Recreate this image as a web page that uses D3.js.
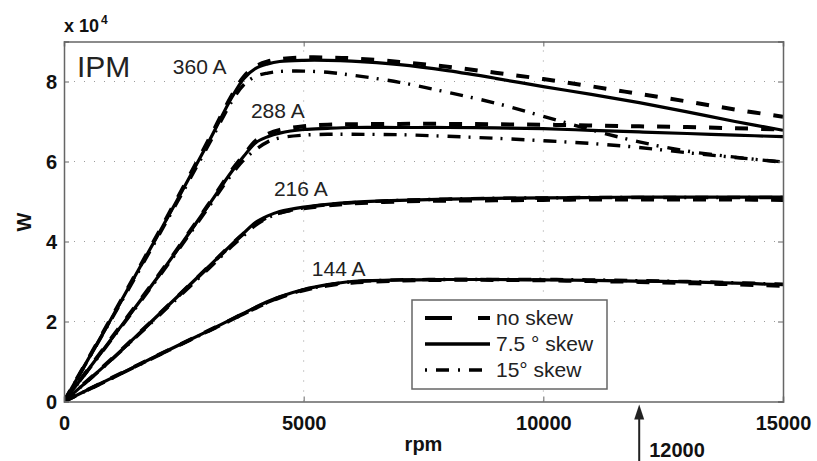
<!DOCTYPE html>
<html>
<head>
<meta charset="utf-8">
<script src="https://cdn.jsdelivr.net/npm/d3@7"></script>
<style>
  body { margin: 0; background: #fff; }
  svg { display: block; font-family: "Liberation Sans", Arial, Helvetica, sans-serif; }
</style>
</head>
<body>
<svg id="chart" width="817" height="461"></svg>
<script>
const rpm = [0, 1000, 2000, 3000, 3500, 3750, 4000, 4250, 4500, 5000, 5500, 6000, 7000, 8000, 9000, 10000, 11000, 12000, 13000, 14000, 15000]

// power in units of 10^4 W
const a360NoSkew = [0, 2.12, 4.28, 6.5, 7.65, 8.12, 8.38, 8.5, 8.56, 8.6, 8.6, 8.58, 8.49, 8.37, 8.22, 8.06, 7.88, 7.69, 7.5, 7.3, 7.12]
const a360Skew75 = [0, 2.1, 4.25, 6.45, 7.6, 8.07, 8.33, 8.44, 8.5, 8.53, 8.53, 8.51, 8.42, 8.27, 8.08, 7.87, 7.68, 7.47, 7.24, 7.0, 6.78]
const a360Skew15 = [0, 2.08, 4.2, 6.38, 7.5, 7.92, 8.13, 8.21, 8.25, 8.26, 8.23, 8.16, 7.98, 7.73, 7.46, 7.13, 6.79, 6.49, 6.26, 6.11, 5.98]

const a288NoSkew = [0, 1.6, 3.2, 4.9, 5.78, 6.16, 6.52, 6.69, 6.79, 6.88, 6.92, 6.93, 6.94, 6.94, 6.93, 6.92, 6.9, 6.88, 6.86, 6.83, 6.8]
const a288Skew75 = [0, 1.58, 3.18, 4.88, 5.75, 6.13, 6.47, 6.62, 6.71, 6.8, 6.83, 6.85, 6.85, 6.85, 6.84, 6.82, 6.78, 6.74, 6.7, 6.66, 6.62]
const a288Skew15 = [0, 1.56, 3.15, 4.83, 5.68, 6.04, 6.3, 6.49, 6.59, 6.66, 6.68, 6.68, 6.67, 6.63, 6.58, 6.52, 6.45, 6.35, 6.22, 6.1, 5.99]

const a216NoSkew = [0, 1.07, 2.2, 3.35, 3.93, 4.2, 4.44, 4.61, 4.72, 4.83, 4.9, 4.95, 5.0, 5.02, 5.03, 5.04, 5.05, 5.05, 5.05, 5.05, 5.04]
const a216Skew75 = [0, 1.06, 2.2, 3.35, 3.93, 4.21, 4.48, 4.64, 4.75, 4.86, 4.93, 4.98, 5.03, 5.06, 5.08, 5.09, 5.1, 5.11, 5.11, 5.11, 5.11]
const a216Skew15 = [0, 1.05, 2.17, 3.3, 3.88, 4.15, 4.41, 4.59, 4.71, 4.84, 4.92, 4.97, 5.03, 5.06, 5.08, 5.09, 5.1, 5.1, 5.1, 5.1, 5.1]

const a144NoSkew = [0, 0.59, 1.18, 1.76, 2.05, 2.2, 2.34, 2.48, 2.6, 2.78, 2.9, 2.97, 3.02, 3.04, 3.04, 3.03, 3.01, 2.99, 2.96, 2.93, 2.89]
const a144Skew75 = [0, 0.59, 1.18, 1.76, 2.06, 2.21, 2.36, 2.5, 2.62, 2.8, 2.92, 3.0, 3.04, 3.05, 3.05, 3.04, 3.03, 3.01, 2.99, 2.96, 2.92]
const a144Skew15 = [0, 0.58, 1.17, 1.75, 2.04, 2.19, 2.34, 2.48, 2.6, 2.79, 2.91, 2.99, 3.04, 3.05, 3.05, 3.05, 3.04, 3.02, 3.0, 2.97, 2.93]

const xTicks = [0, 5000, 10000, 15000]
const yTicks = [0, 2, 4, 6, 8]
const currentLabels = [
  { text: '360 A', rpm: 2270, val: 8.2 },
  { text: '288 A', rpm: 3900, val: 7.1 },
  { text: '216 A', rpm: 4380, val: 5.15 },
  { text: '144 A', rpm: 5170, val: 3.15 },
]
const legendLabels = ['no skew', '7.5 \u00b0 skew', '15\u00b0 skew']
const markedRpm = 12000

const styles = {
  noSkew: { width: 4, dash: '13,13' },
  skew75: { width: 3.2, dash: null },
  skew15: { width: 3.4, dash: '13,8,2,9' },
}

const series = [
  { data: a360Skew75, style: 'skew75' },
  { data: a288Skew75, style: 'skew75' },
  { data: a216Skew75, style: 'skew75' },
  { data: a144Skew75, style: 'skew75' },
  { data: a360Skew15, style: 'skew15' },
  { data: a288Skew15, style: 'skew15' },
  { data: a216Skew15, style: 'skew15' },
  { data: a144Skew15, style: 'skew15' },
  { data: a360NoSkew, style: 'noSkew' },
  { data: a288NoSkew, style: 'noSkew' },
  { data: a216NoSkew, style: 'noSkew' },
  { data: a144NoSkew, style: 'noSkew' },
]

const svg = d3.select('#chart')
const x = d3.scaleLinear().domain([0, 15000]).range([64, 783])
const y = d3.scaleLinear().domain([0, 9]).range([401.5, 41.5])
const [x0, x1] = x.range()
const [y0, y1] = y.range()

svg.append('defs').append('clipPath').attr('id', 'plot')
  .append('rect').attr('x', x0).attr('y', y1).attr('width', x1 - x0).attr('height', y0 - y1)

// dotted grid
const grid = svg.append('g').attr('stroke', '#9a9a9a').attr('stroke-width', 1).attr('stroke-dasharray', '1,9')
grid.selectAll('.gx').data(xTicks.slice(1, -1)).join('line')
  .attr('x1', (d) => x(d)).attr('x2', (d) => x(d)).attr('y1', y0).attr('y2', y1)
grid.selectAll('.gy').data(yTicks.slice(1)).join('line')
  .attr('y1', (d) => y(d)).attr('y2', (d) => y(d)).attr('x1', x0).attr('x2', x1)

// curves
const line = d3.line()
  .x((d, i) => x(rpm[i]))
  .y((d) => y(d))
  .curve(d3.curveCatmullRom.alpha(0.5))

svg.append('g').attr('clip-path', 'url(#plot)')
  .selectAll('path').data(series).join('path')
  .attr('d', (d) => line(d.data))
  .attr('fill', 'none')
  .attr('stroke', '#000')
  .attr('stroke-width', (d) => styles[d.style].width)
  .attr('stroke-dasharray', (d) => styles[d.style].dash)
  .attr('stroke-linejoin', 'round')

// axes (inward ticks, box)
const axisColor = '#666'
const axisBottom = svg.append('g').attr('transform', `translate(0,${y0})`)
  .call(d3.axisBottom(x).tickValues(xTicks).tickSize(-5).tickFormat(d3.format('d')))
const axisLeft = svg.append('g').attr('transform', `translate(${x0},0)`)
  .call(d3.axisLeft(y).tickValues(yTicks).tickSize(-5))
const axisTop = svg.append('g').attr('transform', `translate(0,${y1})`)
  .call(d3.axisTop(x).tickValues(xTicks).tickSize(-5).tickFormat(''))
const axisRight = svg.append('g').attr('transform', `translate(${x1},0)`)
  .call(d3.axisRight(y).tickValues(yTicks).tickSize(-5).tickFormat(''))

;[axisBottom, axisLeft, axisTop, axisRight].forEach((g) => {
  g.select('.domain').attr('stroke', axisColor).attr('stroke-width', 1.5)
  g.selectAll('.tick line').attr('stroke', axisColor).attr('stroke-width', 1)
  g.selectAll('.tick text').attr('fill', '#111').attr('font-size', 20).attr('font-weight', 'bold')
    .attr('font-family', '"Liberation Sans", Arial, sans-serif')
})
axisBottom.selectAll('.tick text').attr('dy', null).attr('y', 28)
axisLeft.selectAll('.tick text').attr('x', -7).attr('dy', '0.35em')

// axis labels
svg.append('text').attr('x', (x0 + x1) / 2).attr('y', 451).attr('text-anchor', 'middle')
  .attr('font-size', 20).attr('font-weight', 'bold').attr('fill', '#111').text('rpm')
svg.append('text').attr('transform', 'translate(31,222) rotate(-90)').attr('text-anchor', 'middle')
  .attr('font-size', 20).attr('font-weight', 'bold').attr('fill', '#111').text('W')
const mult = svg.append('text').attr('x', 64).attr('y', 32).attr('font-size', 18)
  .attr('font-weight', 'bold').attr('fill', '#111')
mult.append('tspan').text('x 10')
mult.append('tspan').attr('dy', -8).attr('dx', 2).attr('font-size', 12).text('4')

svg.append('text').attr('x', 77).attr('y', 77).attr('font-size', 30).attr('fill', '#222').text('IPM')

svg.append('g').selectAll('text').data(currentLabels).join('text')
  .attr('x', (d) => x(d.rpm)).attr('y', (d) => y(d.val))
  .attr('font-size', 21).attr('fill', '#222')
  .text((d) => d.text)

// 12000 rpm marker arrow
const ax = x(markedRpm)
svg.append('line').attr('x1', ax).attr('x2', ax).attr('y1', 461).attr('y2', y0 + 16)
  .attr('stroke', '#222').attr('stroke-width', 2)
svg.append('path')
  .attr('d', `M${ax},${y0 + 3} L${ax - 5},${y0 + 18} L${ax + 5},${y0 + 18} Z`)
  .attr('fill', '#222')
svg.append('text').attr('x', ax + 10).attr('y', 457).attr('font-size', 20)
  .attr('font-weight', 'bold').attr('fill', '#111').text(String(markedRpm))

// legend
const legend = svg.append('g')
legend.append('rect').attr('x', 412).attr('y', 300).attr('width', 195).attr('height', 89)
  .attr('fill', '#fff').attr('stroke', '#666').attr('stroke-width', 1.5)
const legendDash = ['27,26,13', null, '2,9,13,9']
const legendWidth = [4, 3.5, 3.4]
const rows = legend.selectAll('g').data(legendLabels).join('g')
  .attr('transform', (d, i) => `translate(0,${318 + i * 26})`)
rows.append('line').attr('x1', 425).attr('x2', 490).attr('y1', 0).attr('y2', 0)
  .attr('stroke', '#000')
  .attr('stroke-width', (d, i) => legendWidth[i])
  .attr('stroke-dasharray', (d, i) => legendDash[i])
rows.append('text').attr('x', 496).attr('y', 7).attr('font-size', 21).attr('fill', '#222')
  .text((d) => d)
</script>
</body>
</html>
